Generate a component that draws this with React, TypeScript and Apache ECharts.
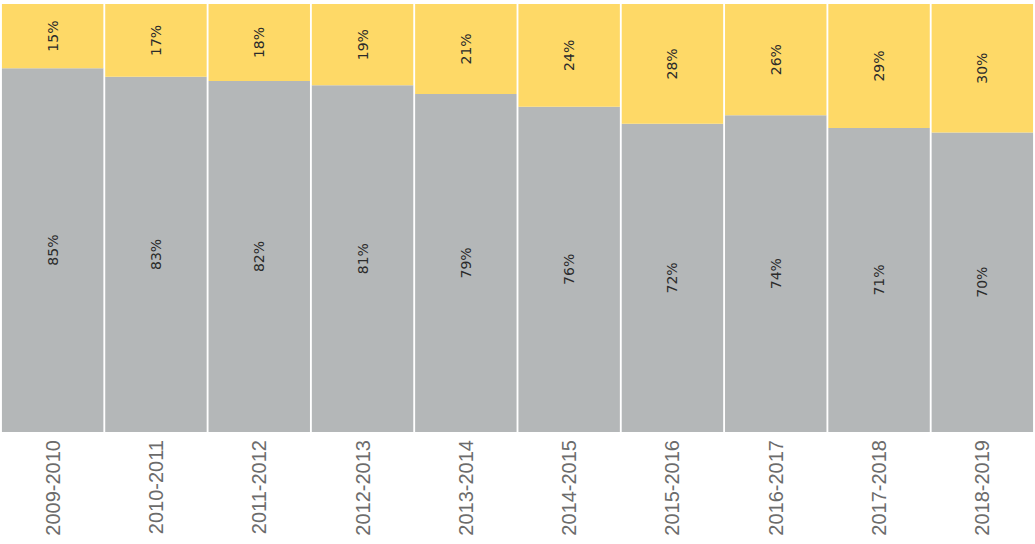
import React, { useEffect, useRef } from "react";
import * as echarts from "echarts";

const categories = [
  "2009-2010",
  "2010-2011",
  "2011-2012",
  "2012-2013",
  "2013-2014",
  "2014-2015",
  "2015-2016",
  "2016-2017",
  "2017-2018",
  "2018-2019",
];
const grayValues = [85, 83, 82, 81, 79, 76, 72, 74, 71, 70];
const yellowValues = [15, 17, 18, 19, 21, 24, 28, 26, 29, 30];

const labelStyle = {
  show: true,
  position: "inside" as const,
  rotate: 90,
  formatter: "{c}%",
  fontSize: 14,
  fontFamily: "DejaVu Sans",
  color: "#2b2b2b",
};

export default function App() {
  const ref = useRef<HTMLDivElement>(null);
  useEffect(() => {
    if (!ref.current) return;
    const chart = echarts.init(ref.current, null, { renderer: "svg" });
    chart.setOption({
      animation: false,
      grid: { left: 1, right: 1, top: 4, bottom: 112, containLabel: false },
      xAxis: {
        type: "category",
        data: categories,
        axisLine: { show: false },
        axisTick: { show: false },
        axisLabel: {
          rotate: 90,
          margin: 8,
          fontSize: 20,
          fontFamily: "Liberation Sans",
          color: "#6b6b6b",
        },
      },
      yAxis: {
        type: "value",
        min: 0,
        max: 100,
        show: false,
      },
      series: [
        {
          type: "bar",
          stack: "total",
          data: grayValues,
          barCategoryGap: "1.8%",
          itemStyle: { color: "#b4b7b8" },
          label: labelStyle,
        },
        {
          type: "bar",
          stack: "total",
          data: yellowValues,
          barCategoryGap: "1.8%",
          itemStyle: { color: "#fed967" },
          label: labelStyle,
        },
      ],
    });
    return () => chart.dispose();
  }, []);
  return (
    <div
      ref={ref}
      style={{ position: "absolute", left: 0, top: 0, width: 1035, height: 544 }}
    />
  );
}
